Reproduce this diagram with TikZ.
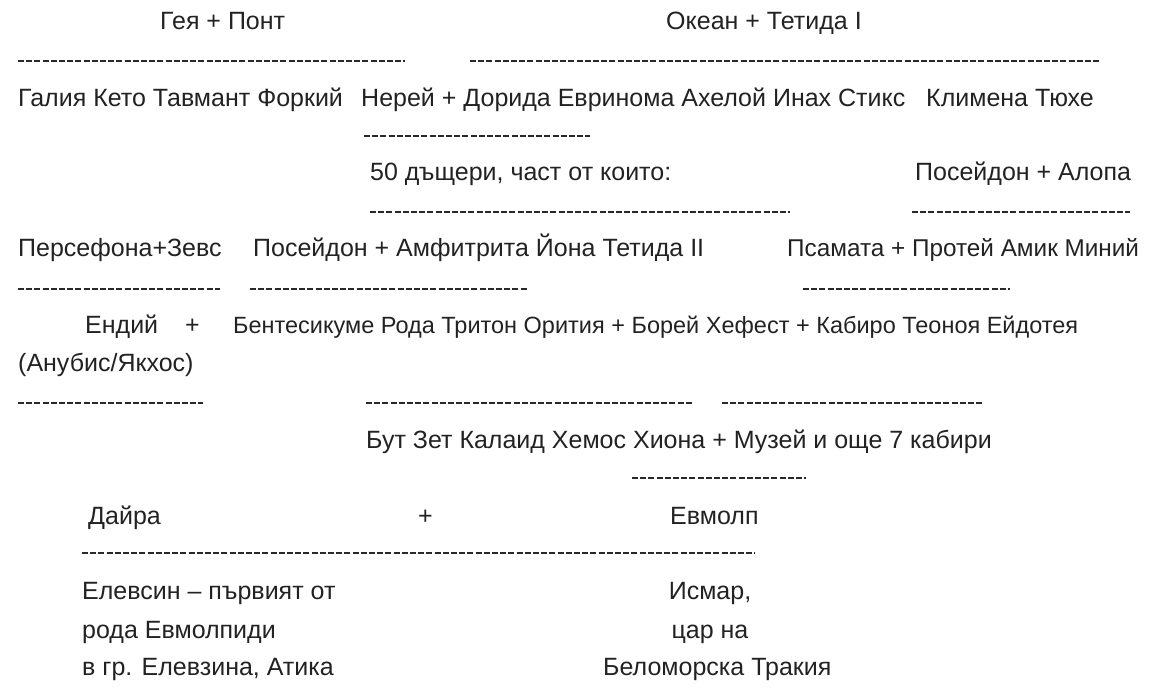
\documentclass[tikz,border=0pt]{standalone}
\usepackage{fontspec}
\setmainfont{Liberation Sans}
\usetikzlibrary{positioning}
\newcommand{\TextSize}{25}
\newcommand{\DashOn}{6pt}
\newcommand{\DashOff}{2.2pt}
\newcommand{\DashThick}{2pt}
\definecolor{TextBlack}{RGB}{34, 34, 34}
\definecolor{DashBlack}{RGB}{40, 40, 40}

\begin{document}
\begin{tikzpicture}[x=1pt,y=-1pt]
  \tikzstyle{every node}=[font=\fontsize{\TextSize}{30}\selectfont, text=TextBlack, inner sep=0pt, anchor=base west]
  \tikzstyle{dashline}=[DashBlack, line width=\DashThick, dash pattern=on \DashOn off \DashOff]
  \useasboundingbox (0,0) rectangle (1154,692);

  % Row 1
  \node (gaia) at (160,30) {Гея + Понт};
  \node (ocean) at (666,30) {Океан + Тетида I};
  \draw[dashline] (18,61) -- (405,61);
  \draw[dashline] (470,61) -- (1100,61);

  % Row 2
  \node (galia) at (18,107) {Галия Кето Тавмант Форкий};
  \node (nerei) at (361,107) {Нерей + Дорида Евринома Ахелой Инах Стикс};
  \node (klimena) at (926,107) {Климена Тюхе};
  \draw[dashline] (364,136) -- (590,136);

  % Row 3
  \node (daughters) at (370,181) {50 дъщери, част от които:};
  \node (alopa) at (915,181) {Посейдон + Алопа};
  \draw[dashline] (370,212) -- (790,212);
  \draw[dashline] (912,212) -- (1130,212);

  % Row 4
  \node (persefona) at (18,257) {Персефона+Зевс};
  \node (amfitrita) at (253,257) {Посейдон + Амфитрита Йона Тетида II};
  \node[font=\fontsize{24.3}{30}\selectfont] (psamata) at (787,257) {Псамата + Протей Амик Миний};
  \draw[dashline] (18,289) -- (220,289);
  \draw[dashline] (250,289) -- (527,289);
  \draw[dashline] (803,289) -- (1010,289);

  % Row 5
  \node (endii) at (85,334) {Ендий};
  \node (endplus) at (185,334) {+};
  \node (anubis) at (18,372) {(Анубис/Якхос)};
  \node[font=\fontsize{23.5}{30}\selectfont] (bentes) at (233,334) {Бентесикуме Рода Тритон Орития + Борей Хефест + Кабиро Теоноя Ейдотея};
  \draw[dashline] (18,403) -- (203,403);
  \draw[dashline] (366,403) -- (693,403);
  \draw[dashline] (722,403) -- (983,403);

  % Row 6
  \node (but) at (366,448) {Бут Зет Калаид Хемос Хиона + Музей и още 7 кабири};
  \draw[dashline] (632,478) -- (806,478);

  % Row 7
  \node (daira) at (88,524) {Дайра};
  \node (dplus) at (418,524) {+};
  \node (evmolp) at (670,524) {Евмолп};
  \draw[dashline] (82,553) -- (755,553);

  % Row 8
  \node (elevsin) at (82,599) {Елевсин – първият от};
  \node (roda) at (82,638) {рода Евмолпиди};
  \node (grad) at (82,675) {в гр. Елевзина, Атика};
  \node[anchor=base] (ismar) at (710,599) {Исмар,};
  \node[anchor=base] (tsar) at (710,638) {цар на};
  \node (trakia) at (603,675) {Беломорска Тракия};
\end{tikzpicture}
\end{document}
